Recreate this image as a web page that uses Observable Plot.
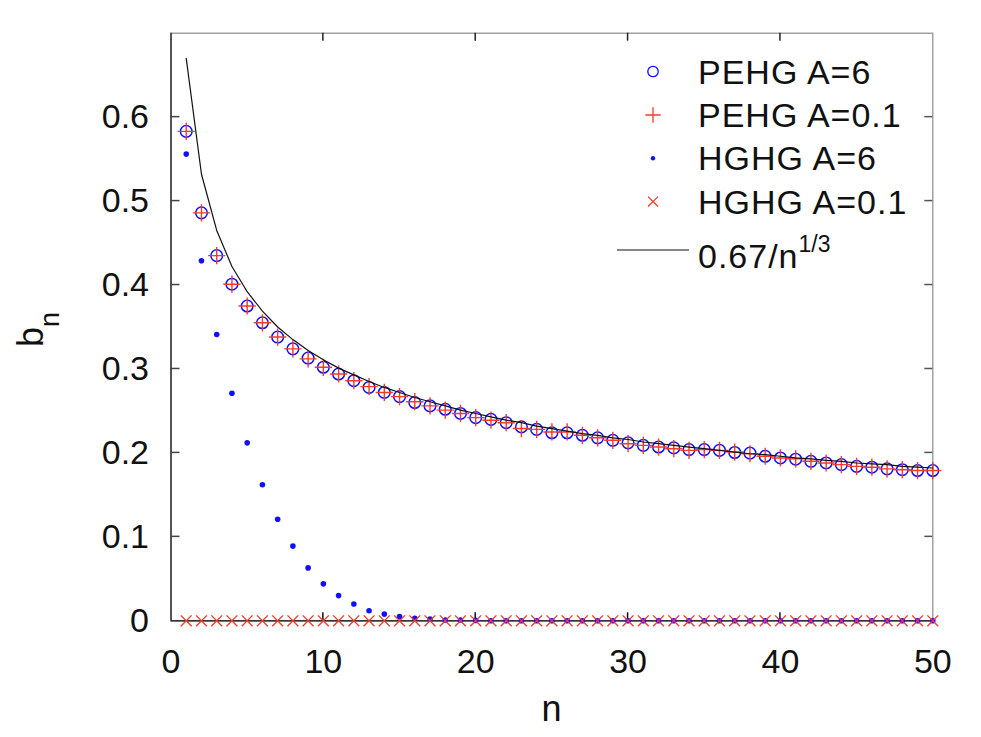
<!DOCTYPE html>
<html>
<head>
<meta charset="utf-8">
<script src="https://cdn.jsdelivr.net/npm/d3@7"></script>
<script src="https://cdn.jsdelivr.net/npm/@observablehq/plot@0.6"></script>
<style>
  body { margin: 0; background: #fff; }
  svg { font-family: "Liberation Sans", Arial, Helvetica, sans-serif; }
</style>
</head>
<body>
<div id="chart"></div>
<script>
// ---- data ----
const nValues = [1,2,3,4,5,6,7,8,9,10,11,12,13,14,15,16,17,18,19,20,21,22,23,24,25,26,27,28,29,30,31,32,33,34,35,36,37,38,39,40,41,42,43,44,45,46,47,48,49,50];

const pehgA6 = [0.583,0.486,0.435,0.401,0.375,0.355,0.338,0.324,0.313,0.302,
                0.294,0.286,0.278,0.272,0.267,0.260,0.256,0.252,0.247,0.242,
                0.240,0.236,0.231,0.228,0.224,0.224,0.221,0.218,0.215,0.212,
                0.209,0.207,0.206,0.204,0.204,0.203,0.2005,0.1997,0.196,0.194,
                0.1925,0.190,0.188,0.186,0.184,0.183,0.181,0.180,0.179,0.179];

const pehgA01 = [0.583,0.486,0.435,0.401,0.375,0.355,0.338,0.324,0.312,0.302,
                 0.294,0.286,0.279,0.272,0.267,0.261,0.256,0.251,0.247,0.242,
                 0.239,0.236,0.229,0.228,0.225,0.225,0.221,0.218,0.215,0.211,
                 0.209,0.207,0.205,0.203,0.204,0.203,0.201,0.199,0.196,0.194,
                 0.193,0.190,0.188,0.186,0.184,0.183,0.181,0.180,0.179,0.179];

const hghgA6 = [0.556,0.429,0.341,0.271,0.212,0.162,0.121,0.089,0.063,0.044,
                0.030,0.020,0.012,0.008,0.005,0.003,0.002,0.001,0.001,0.0005,
                0,0,0,0,0,0,0,0,0,0,
                0,0,0,0,0,0,0,0,0,0,
                0,0,0,0,0,0,0,0,0,0];

const hghgA01 = [0,0,0,0,0,0,0,0,0,0,
                 0,0,0,0,0,0,0,0,0,0,
                 0,0,0,0,0,0,0,0,0,0,
                 0,0,0,0,0,0,0,0,0,0,
                 0,0,0,0,0,0,0,0,0,0];

// 0.67/n^(1/3) evaluated at n = 1..50
const fitCurve = [0.670,0.532,0.465,0.422,0.392,0.369,0.350,0.335,0.322,0.311,
                  0.301,0.293,0.285,0.278,0.272,0.266,0.261,0.256,0.251,0.247,
                  0.243,0.239,0.236,0.232,0.229,0.226,0.223,0.221,0.218,0.216,
                  0.213,0.211,0.209,0.207,0.205,0.203,0.201,0.199,0.198,0.196,
                  0.194,0.193,0.191,0.190,0.188,0.187,0.186,0.184,0.183,0.182];

const xTicks = [0,10,20,30,40,50];
const xInnerTicks = [10,20,30,40];
const yTicks = [0,0.1,0.2,0.3,0.4,0.5,0.6];
const yInnerTicks = [0.1,0.2,0.3,0.4,0.5,0.6];
const tickLabelsY = ["0","0.1","0.2","0.3","0.4","0.5","0.6"];

const legendLabels = ["PEHG A=6","PEHG A=0.1","HGHG A=6","HGHG A=0.1"];
const fitLabelBase = "0.67/n";
const fitLabelSup = "1/3";
const xLabel = "n";
const yLabelBase = "b";
const yLabelSub = "n";

// ---- table for the library ----
const data = nValues.map((n, i) => ({
  n, pehgA6: pehgA6[i], pehgA01: pehgA01[i], hghgA6: hghgA6[i], hghgA01: hghgA01[i], fit: fitCurve[i]
}));

// ---- layout ----
const WIDTH = 981, HEIGHT = 737;
const mL = 170.5, mR = 48.7, mT = 32.7, mB = 116.7;
const FW = WIDTH - mL - mR, FH = HEIGHT - mT - mB;
const BLUE = "#1010ff", RED = "#f03c28";

// inward ticks on all four sides, positioned by the plot's own scales
function innerTicksRender() {
  return (index, scales) => {
    const g = d3.create("svg:g").attr("fill", "none");
    const top = mT, bottom = HEIGHT - mB, left = mL, right = WIDTH - mR;
    xInnerTicks.forEach(v => {
      const x = scales.x(v);
      g.append("line").attr("x1", x).attr("x2", x).attr("y1", bottom).attr("y2", bottom - 8)
        .attr("stroke", "#111").attr("stroke-width", 1.5);
      g.append("line").attr("x1", x).attr("x2", x).attr("y1", top).attr("y2", top + 8)
        .attr("stroke", "#222").attr("stroke-width", 1.5);
    });
    yInnerTicks.forEach(v => {
      const y = scales.y(v);
      g.append("line").attr("x1", left).attr("x2", left + 9).attr("y1", y).attr("y2", y)
        .attr("stroke", "#444").attr("stroke-width", 1.5);
      g.append("line").attr("x1", right).attr("x2", right - 8).attr("y1", y).attr("y2", y)
        .attr("stroke", "#555").attr("stroke-width", 1.5);
    });
    return g.node();
  };
}

function legendRender() {
  return () => {
    const g = d3.create("svg:g").attr("text-anchor", "start");
    const symX = 653, textX = 698;
    const baselines = [83.5, 127, 170.3, 213.6];
    const symbols = [
      {type: d3.symbolCircle, r: 5.2, fill: "none", stroke: BLUE},
      {type: d3.symbolPlus, r: 5.0, fill: "none", stroke: RED},
      {type: d3.symbolCircle, r: 2.2, fill: BLUE, stroke: "none"},
      {type: d3.symbolTimes, r: 4.6, fill: "none", stroke: RED}
    ];
    legendLabels.forEach((label, i) => {
      const s = symbols[i];
      g.append("path")
        .attr("d", d3.symbol(s.type, Math.PI * s.r * s.r)())
        .attr("transform", `translate(${symX},${baselines[i] - 12})`)
        .attr("fill", s.fill).attr("stroke", s.stroke).attr("stroke-width", 1.3);
      g.append("text")
        .attr("x", textX).attr("y", baselines[i]).attr("text-anchor", "start")
        .attr("font-size", 34).attr("letter-spacing", 1).attr("fill", "#111")
        .text(label);
    });
    g.append("line").attr("x1", 617).attr("x2", 689).attr("y1", 250).attr("y2", 250)
      .attr("stroke", "#111").attr("stroke-width", 1.2);
    const t = g.append("text").attr("x", textX).attr("y", 268).attr("font-size", 34)
      .attr("text-anchor", "start").attr("letter-spacing", 1).attr("fill", "#111");
    t.append("tspan").text(fitLabelBase);
    t.append("tspan").attr("dy", -16).attr("font-size", 23).attr("letter-spacing", 0).text(fitLabelSup);
    return g.node();
  };
}

function axisTitlesRender() {
  return () => {
    const g = d3.create("svg:g");
    g.append("text").attr("x", mL + FW / 2).attr("y", 721).attr("text-anchor", "middle")
      .attr("font-size", 36).attr("fill", "#111").text(xLabel);
    const t = g.append("text").attr("transform", "translate(43.3,347) rotate(-90)")
      .attr("text-anchor", "start").attr("font-size", 36).attr("fill", "#111");
    t.append("tspan").text(yLabelBase);
    t.append("tspan").attr("dy", 16).attr("font-size", 27).text(yLabelSub);
    return g.node();
  };
}

const chart = Plot.plot({
  width: WIDTH,
  height: HEIGHT,
  marginLeft: mL, marginRight: mR, marginTop: mT, marginBottom: mB,
  style: {background: "#fff", color: "#111", fontSize: "34px", fontFamily: "Liberation Sans, Arial, sans-serif"},
  x: {domain: [0, 50]},
  y: {domain: [0, 0.7]},
  marks: [
    Plot.frame({stroke: "#8a8a8a", strokeWidth: 1.2}),
    Plot.ruleX([0], {stroke: "#111", strokeWidth: 1.2}),
    Plot.ruleY([0], {stroke: "#111", strokeWidth: 1.2}),
    innerTicksRender(),
    Plot.axisX({ticks: xTicks, tickSize: 0, tickPadding: 27.7, fontSize: 34, label: null, tickFormat: d => String(d)}),
    Plot.axisY({ticks: yTicks, tickSize: 0, tickPadding: 22, fontSize: 34, label: null, tickFormat: d => tickLabelsY[yTicks.indexOf(d)]}),
    // series
    Plot.dot(data, {x: "n", y: "pehgA6", r: 5.8, symbol: "circle", stroke: BLUE, strokeWidth: 1.5, fill: "none"}),
    Plot.dot(data, {x: "n", y: "pehgA01", r: 5.6, symbol: "plus", stroke: RED, strokeWidth: 1.4}),
    Plot.dot(data, {x: "n", y: "hghgA6", r: 2.8, fill: BLUE, stroke: "none"}),
    Plot.dot(data, {x: "n", y: "hghgA01", r: 5.0, symbol: "times", stroke: RED, strokeWidth: 1.4}),
    Plot.line(data, {x: "n", y: "fit", stroke: "#111", strokeWidth: 1.2}),
    legendRender(),
    axisTitlesRender()
  ]
});
document.getElementById("chart").appendChild(chart);
</script>
</body>
</html>
